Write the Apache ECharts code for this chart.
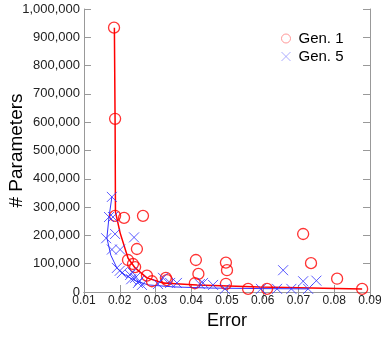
<!DOCTYPE html>
<html>
<head>
<meta charset="utf-8">
<script src="https://cdn.jsdelivr.net/npm/echarts@6/dist/echarts.min.js"></script>
<style>html,body{margin:0;padding:0;background:#fff}#c{width:381px;height:339px}</style>
</head>
<body>
<div id="c"></div>
<script>
var xTicks = [0.01, 0.09, 0.01]; // min, max, interval
var yTicks = [0, 1000000, 100000];

var gen1 = [
  [0.0184, 934000], [0.0187, 612000], [0.0187, 269000], [0.0212, 262000],
  [0.0265, 269000], [0.0248, 152000], [0.0223, 113000], [0.0237, 99000],
  [0.0243, 88000], [0.0276, 58000], [0.0290, 38000], [0.0329, 50000],
  [0.0332, 42000], [0.0413, 113000], [0.0420, 64000], [0.0410, 31000],
  [0.0497, 104000], [0.0500, 77000], [0.0497, 29000], [0.0559, 11000],
  [0.0612, 11000], [0.0713, 205000], [0.0735, 102000], [0.0808, 47000],
  [0.0878, 11000]
];
var gen5 = [
  [0.0178, 336000], [0.0170, 265000], [0.0181, 265000], [0.0162, 190000],
  [0.0187, 205000], [0.0240, 193000], [0.0178, 150000], [0.0201, 150000],
  [0.0192, 85000], [0.0200, 75000], [0.0206, 67000], [0.0229, 60000],
  [0.0235, 70000], [0.0243, 50000], [0.0232, 45000], [0.0251, 32000],
  [0.0262, 25000], [0.0255, 40000], [0.0307, 28000], [0.0321, 50000],
  [0.0341, 32000], [0.0360, 32000], [0.0424, 28000], [0.0433, 32000],
  [0.0461, 25000], [0.0494, 11000], [0.0595, 11000], [0.0640, 11000],
  [0.0657, 77000], [0.0680, 11000], [0.0713, 38000], [0.0727, 11000],
  [0.0750, 40000]
];
var fit1 = [
  [0.0185, 934000], [0.0187, 600000], [0.0188, 283000], [0.0201, 209000],
  [0.0223, 120000], [0.0243, 85000], [0.0276, 50000], [0.0321, 32000],
  [0.0416, 25000], [0.0592, 18000], [0.0878, 11000]
];
var fit5 = [
  [0.0178, 336000], [0.0170, 265000], [0.0164, 191000], [0.0175, 130000],
  [0.0192, 85000], [0.0215, 60000], [0.0243, 40000], [0.0280, 25000],
  [0.0350, 18000], [0.0450, 14000], [0.0600, 12000], [0.0727, 11000]
];

var FONT = '"Liberation Sans", Arial, sans-serif';
var AX = '#999';
var RED = '#ff0000', BLUE = '#3333ff';
var crossPath = 'path://M0,0L10,10M10,0L0,10';

var chart = echarts.init(document.getElementById('c'), null, {renderer: 'canvas'});
function fmtNum(v){ return v.toString().replace(/\B(?=(\d{3})+(?!\d))/g, ','); }

var common = {
  axisLine: {show: true, lineStyle: {color: AX, width: 1}},
  axisTick: {show: true, inside: true, length: 7, lineStyle: {color: AX}},
  splitLine: {show: false}
};

chart.setOption({
  animation: false,
  backgroundColor: '#fff',
  textStyle: {fontFamily: FONT},
  grid: {left: 84, right: 11, top: 9, bottom: 47, containLabel: false, outerBoundsMode: 'none'},
  legend: {
    orient: 'vertical', left: 274, top: 26, itemGap: 3,
    itemWidth: 9, itemHeight: 9,
    textStyle: {fontSize: 15, color: '#000', fontFamily: FONT, padding: [0, 0, 0, 3]},
    data: [
      {name: 'Gen. 1', icon: 'circle', itemStyle: {color: 'none', borderColor: '#ff8080', borderWidth: 1}},
      {name: 'Gen. 5', icon: crossPath, itemStyle: {color: 'none', borderColor: '#9999ff', borderWidth: 1}}
    ]
  },
  xAxis: [
    Object.assign({
      type: 'value', min: xTicks[0], max: xTicks[1], interval: xTicks[2],
      name: 'Error', nameLocation: 'middle', nameGap: 20, nameMoveOverlap: false,
      nameTextStyle: {fontSize: 18, color: '#000', fontFamily: FONT},
      axisLabel: {fontSize: 12, color: '#222', margin: 3, formatter: function(v){ return v.toFixed(2); }}
    }, common),
    Object.assign({
      type: 'value', position: 'top', min: xTicks[0], max: xTicks[1], interval: xTicks[2],
      axisLabel: {show: false}
    }, common)
  ],
  yAxis: [
    Object.assign({
      type: 'value', min: yTicks[0], max: yTicks[1], interval: yTicks[2],
      name: '# Parameters', nameLocation: 'middle', nameGap: 58, nameMoveOverlap: false,
      nameTextStyle: {fontSize: 19, color: '#000', fontFamily: FONT},
      axisLabel: {fontSize: 13, color: '#222', margin: 4, formatter: fmtNum}
    }, common),
    Object.assign({
      type: 'value', position: 'right', min: yTicks[0], max: yTicks[1], interval: yTicks[2],
      axisLabel: {show: false}
    }, common)
  ],
  series: [
    {type: 'line', data: fit1, symbol: 'none', smooth: false, lineStyle: {color: RED, width: 1.5}, z: 2, silent: true},
    {type: 'line', data: fit5, symbol: 'none', smooth: false, lineStyle: {color: BLUE, width: 1}, z: 2, silent: true},
    {name: 'Gen. 1', type: 'scatter', data: gen1, symbol: 'circle', symbolSize: 11,
     itemStyle: {color: 'none', borderColor: RED, borderWidth: 1.3}, z: 3},
    {name: 'Gen. 5', type: 'scatter', data: gen5, symbol: crossPath, symbolSize: 10,
     itemStyle: {color: 'none', borderColor: BLUE, borderWidth: 1}, z: 3}
  ]
});
</script>
</body>
</html>
